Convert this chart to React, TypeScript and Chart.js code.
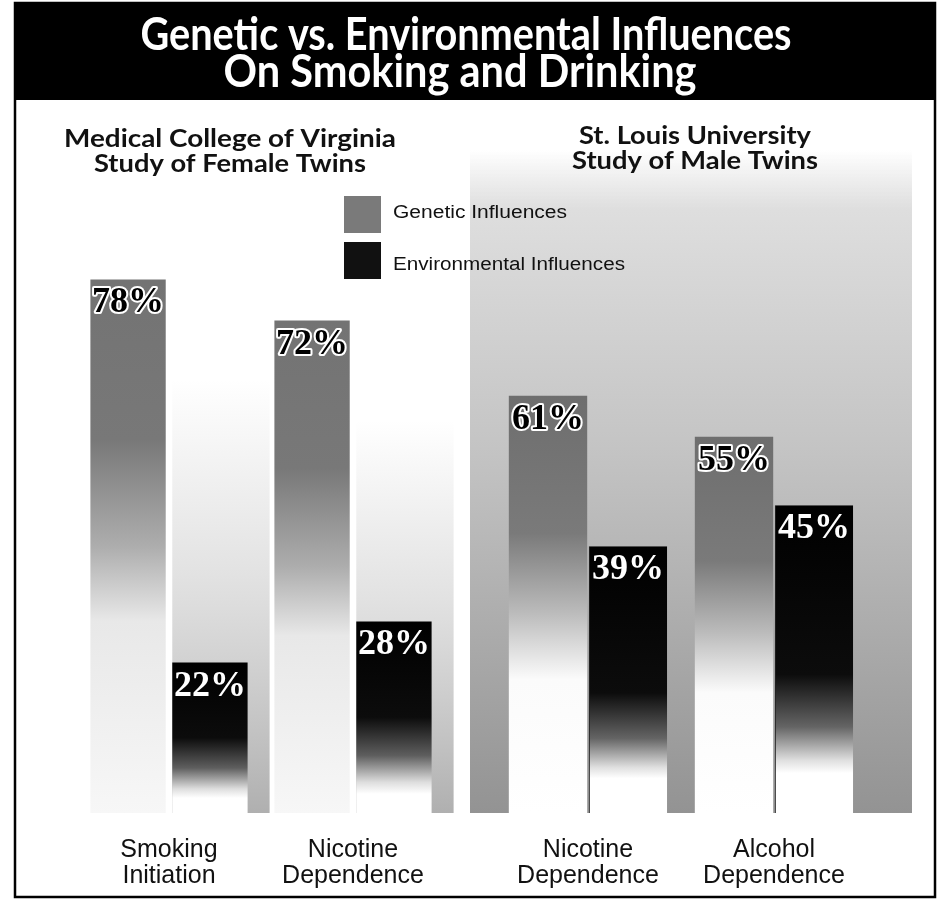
import React, { useEffect, useRef } from 'react';
import { Chart, registerables } from 'chart.js';

Chart.register(...registerables);

// ---------- data ----------
const femaleCategories = [['Smoking', 'Initiation'], ['Nicotine', 'Dependence']];
const maleCategories = [['Nicotine', 'Dependence'], ['Alcohol', 'Dependence']];
const femaleGenetic = [78, 72];
const femaleEnvironmental = [22, 28];
const maleGenetic = [61, 55];
const maleEnvironmental = [39, 45];
const seriesNames = ['Genetic Influences', 'Environmental Influences'];
const titleLines = ['Genetic vs. Environmental Influences', 'On Smoking and Drinking'];
const femaleStudy = ['Medical College of Virginia', 'Study of Female Twins'];
const maleStudy = ['St. Louis University', 'Study of Male Twins'];
const yMin = 0;
const yMax = 100;

// ---------- styles ----------
type Stops = [number, string][];
const GEN_LEFT: Stops = [[0, '#737373'], [0.3, '#787878'], [0.5, '#adadad'], [0.64, '#e8e8e8'], [1, '#f7f7f7']];
const GEN_RIGHT: Stops = [[0, '#6e6e6e'], [0.33, '#7a7a7a'], [0.52, '#bbbbbb'], [0.68, '#fbfbfb'], [1, '#ffffff']];
const ENV_LEFT: Stops = [[0, '#000000'], [0.5, '#0c0c0c'], [0.7, '#5e5e5e'], [0.84, '#dedede'], [0.9, '#ffffff'], [1, '#ffffff']];
const ENV_RIGHT: Stops = [[0, '#000000'], [0.55, '#0c0c0c'], [0.72, '#646464'], [0.83, '#e0e0e0'], [0.87, '#ffffff'], [1, '#ffffff']];

const SANS = '"Liberation Sans", Arial, sans-serif';
const HUMANIST = 'Lato, "Open Sans", sans-serif';
const SERIF = '"Liberation Serif", "Times New Roman", serif';

function gradientFill(stops: Stops, fallback: string) {
  return (c: any) => {
    const chart = c.chart;
    if (!chart.chartArea || c.type !== 'data') return fallback;
    const y = chart.scales.y;
    const top = y.getPixelForValue(c.raw);
    const base = y.getPixelForValue(0);
    const g = chart.ctx.createLinearGradient(0, top, 0, base);
    stops.forEach(([o, col]) => g.addColorStop(o, col));
    return g;
  };
}

function fitText(ctx: CanvasRenderingContext2D, text: string, x: number, y: number, w: number, font: string, color: string, align: 'center' | 'left' = 'center') {
  ctx.save();
  ctx.font = font;
  const m = ctx.measureText(text).width;
  const s = w / m;
  ctx.translate(x, y);
  ctx.scale(s, 1);
  ctx.textAlign = align;
  ctx.textBaseline = 'alphabetic';
  ctx.fillStyle = color;
  ctx.fillText(text, 0, 0);
  ctx.restore();
}

const percentLabels = {
  id: 'percentLabels',
  afterDatasetsDraw(chart: any) {
    const ctx = chart.ctx as CanvasRenderingContext2D;
    ctx.save();
    ctx.font = `bold 36px ${SERIF}`;
    ctx.textAlign = 'center';
    ctx.textBaseline = 'alphabetic';
    chart.data.datasets.forEach((ds: any, di: number) => {
      const meta = chart.getDatasetMeta(di);
      meta.data.forEach((el: any, i: number) => {
        const txt = `${ds.data[i]}%`;
        const yy = el.y + 33;
        if (di === 0) {
          ctx.lineWidth = 4;
          ctx.strokeStyle = '#ffffff';
          ctx.lineJoin = 'round';
          ctx.strokeText(txt, el.x, yy);
          ctx.fillStyle = '#000000';
          ctx.fillText(txt, el.x, yy);
        } else {
          ctx.fillStyle = '#ffffff';
          ctx.fillText(txt, el.x, yy);
        }
      });
    });
    ctx.restore();
  },
};

const leftDecor = {
  id: 'leftDecor',
  beforeDraw(chart: any) {
    const ctx = chart.ctx as CanvasRenderingContext2D;
    ctx.save();
    ctx.fillStyle = '#ffffff';
    ctx.fillRect(0, 0, chart.width, chart.height);
    // title bar
    ctx.fillStyle = '#000000';
    ctx.fillRect(15, 3, 920, 97);
    // frame
    ctx.strokeStyle = '#000000';
    ctx.lineWidth = 2.5;
    ctx.strokeRect(15, 3, 920, 894);
    ctx.restore();
    fitText(ctx, titleLines[0], 466, 50, 651, `bold 45px ${HUMANIST}`, '#ffffff');
    fitText(ctx, titleLines[1], 460, 87, 473, `bold 45px ${HUMANIST}`, '#ffffff');
    fitText(ctx, femaleStudy[0], 230, 147, 332, `bold 25px ${HUMANIST}`, '#111111');
    fitText(ctx, femaleStudy[1], 230, 172, 272, `bold 25px ${HUMANIST}`, '#111111');
  },
  beforeDatasetsDraw(chart: any) {
    const ctx = chart.ctx as CanvasRenderingContext2D;
    const gen = chart.getDatasetMeta(0);
    const env = chart.getDatasetMeta(1);
    ctx.save();
    env.data.forEach((el: any, i: number) => {
      const left = el.x - el.width / 2;
      const right = el.x + el.width / 2 + 22;
      const top = gen.data[i].y + 100;
      const bottom = el.base;
      const g = ctx.createLinearGradient(0, top, 0, bottom);
      g.addColorStop(0, 'rgba(140,140,140,0)');
      g.addColorStop(0.45, 'rgba(140,140,140,0.25)');
      g.addColorStop(1, 'rgba(110,110,110,0.55)');
      ctx.fillStyle = g;
      ctx.fillRect(left, top, right - left, bottom - top);
    });
    ctx.restore();
  },
};

const rightDecor = {
  id: 'rightDecor',
  beforeDatasetsDraw(chart: any) {
    const ctx = chart.ctx as CanvasRenderingContext2D;
    const a = chart.chartArea;
    const left = a.left - 25;
    const right = a.right + 45;
    const top = 150;
    const bottom = a.bottom;
    ctx.save();
    const g = ctx.createLinearGradient(0, top, 0, bottom);
    g.addColorStop(0, 'rgba(220,220,220,0)');
    g.addColorStop(0.09, 'rgba(222,222,222,1)');
    g.addColorStop(0.45, 'rgba(196,196,196,1)');
    g.addColorStop(1, 'rgba(147,147,147,1)');
    ctx.fillStyle = g;
    ctx.fillRect(left, top, right - left, bottom - top);
    ctx.restore();
    fitText(ctx, maleStudy[0], 695, 144, 232, `bold 25px ${HUMANIST}`, '#111111');
    fitText(ctx, maleStudy[1], 695, 169, 246, `bold 25px ${HUMANIST}`, '#111111');
  },
  afterDatasetsDraw(chart: any) {
    const ctx = chart.ctx as CanvasRenderingContext2D;
    ctx.save();
    ctx.fillStyle = '#7a7a7a';
    ctx.fillRect(344, 196, 37, 37);
    ctx.fillStyle = '#111111';
    ctx.fillRect(344, 242, 37, 37);
    ctx.restore();
    fitText(ctx, seriesNames[0], 393, 218, 174, `18px ${SANS}`, '#111111', 'left');
    fitText(ctx, seriesNames[1], 393, 270, 232, `18px ${SANS}`, '#111111', 'left');
  },
};

function makeConfig(opts: {
  labels: string[][];
  gen: number[];
  env: number[];
  genStops: Stops;
  envStops: Stops;
  padLeft: number;
  padRight: number;
  catPct: number;
  barPct: number;
  envBorder: number;
  plugins: any[];
}) {
  return {
    type: 'bar' as const,
    data: {
      labels: opts.labels,
      datasets: [
        {
          label: seriesNames[0],
          data: opts.gen,
          backgroundColor: gradientFill(opts.genStops, '#777777'),
          borderWidth: 0,
          categoryPercentage: opts.catPct,
          barPercentage: opts.barPct,
        },
        {
          label: seriesNames[1],
          data: opts.env,
          backgroundColor: gradientFill(opts.envStops, '#000000'),
          borderColor: '#000000',
          borderWidth: { left: opts.envBorder, top: 0, right: 0, bottom: 0 },
          borderSkipped: false,
          categoryPercentage: opts.catPct,
          barPercentage: opts.barPct,
        },
      ],
    },
    options: {
      responsive: false,
      animation: false as const,
      events: [],
      layout: { padding: { top: 129, left: opts.padLeft, right: opts.padRight, bottom: 0 } },
      plugins: {
        legend: { display: false },
        tooltip: { enabled: false },
        title: { display: false },
      },
      scales: {
        x: {
          grid: { display: false },
          border: { display: false },
          ticks: {
            color: '#111111',
            font: { family: SANS, size: 25, lineHeight: 1.04 },
            padding: 16,
            maxRotation: 0,
            autoSkip: false,
          },
          afterFit: (s: any) => {
            s.height = 87;
          },
        },
        y: { display: false, min: yMin, max: yMax },
      },
    },
    plugins: opts.plugins,
  };
}

export default function App() {
  const leftRef = useRef<HTMLCanvasElement>(null);
  const rightRef = useRef<HTMLCanvasElement>(null);

  useEffect(() => {
    const left = new Chart(
      leftRef.current as HTMLCanvasElement,
      makeConfig({
        labels: femaleCategories,
        gen: femaleGenetic,
        env: femaleEnvironmental,
        genStops: GEN_LEFT,
        envStops: ENV_LEFT,
        padLeft: 77,
        padRight: 493,
        catPct: 0.89,
        barPct: 0.92,
        envBorder: 0,
        plugins: [leftDecor, percentLabels],
      }) as any
    );
    const right = new Chart(
      rightRef.current as HTMLCanvasElement,
      makeConfig({
        labels: maleCategories,
        gen: maleGenetic,
        env: maleEnvironmental,
        genStops: GEN_RIGHT,
        envStops: ENV_RIGHT,
        padLeft: 495,
        padRight: 71,
        catPct: 0.86,
        barPct: 0.98,
        envBorder: 1,
        plugins: [rightDecor, percentLabels],
      }) as any
    );
    return () => {
      left.destroy();
      right.destroy();
    };
  }, []);

  const cStyle: React.CSSProperties = { position: 'absolute', left: 0, top: 0, display: 'block' };
  return (
    <div style={{ position: 'absolute', left: 0, top: 0, width: 938, height: 900, background: '#ffffff' }}>
      <canvas ref={leftRef} width={938} height={900} style={cStyle} />
      <canvas ref={rightRef} width={938} height={900} style={cStyle} />
    </div>
  );
}
